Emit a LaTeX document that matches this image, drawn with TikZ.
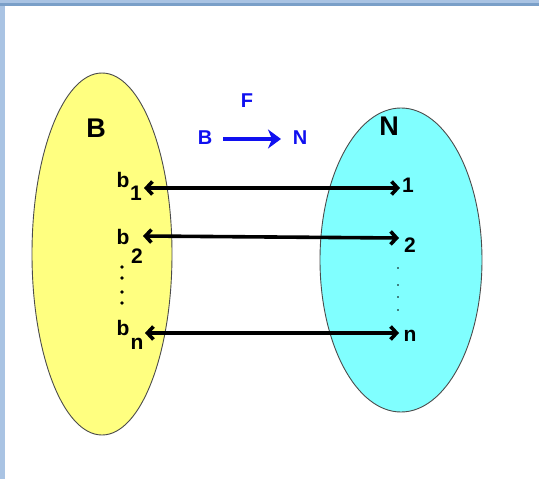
\documentclass[tikz,border=0pt]{standalone}
\usepackage{fontspec}
\setmainfont{Liberation Sans}
\usetikzlibrary{arrows.meta}
\definecolor{setyellow}{HTML}{FFFF80}
\definecolor{setcyan}{HTML}{80FFFF}
\definecolor{frameA}{HTML}{A9C3E3}
\definecolor{frameB}{HTML}{7A9FC8}
\definecolor{maparrow}{HTML}{1010F0}
\tikzset{
  setshape/.style={draw=black!70, line width=0.9pt},
  biglabel/.style={inner sep=0pt, font=\fontsize{27}{27}\selectfont\bfseries},
  elemlabel/.style={inner sep=0pt, font=\fontsize{21}{21}\selectfont\bfseries},
  bluelabel/.style={inner sep=0pt, text=maparrow, font=\fontsize{20}{20}\selectfont\bfseries},
  pairarrow/.style={line width=3.6pt, {Straight Barb[length=6pt,width=13pt]}-{Straight Barb[length=6pt,width=13pt]}},
}
\begin{document}
\begin{tikzpicture}[x=1pt,y=-1pt]
\useasboundingbox (0,0) rectangle (539,479);
\fill[white] (0,0) rectangle (539,479);
% frame
\fill[frameA] (0,0) rectangle (539,3);
\fill[frameB] (0,3) rectangle (539,6);
\fill[frameA] (0,6) rectangle (5,479);
% sets
\draw[setshape, fill=setyellow] (102,254) ellipse [x radius=70, y radius=181];
\draw[setshape, fill=setcyan] (401,260) ellipse [x radius=81, y radius=152];
% set names
\node[biglabel] (setB) at (96,128) {B};
\node[biglabel] (setN) at (389,126) {N};
% map label
\node[bluelabel] (mapF) at (247,101) {F};
\node[bluelabel] (mapB) at (205,138) {B};
\node[bluelabel] (mapN) at (300,138) {N};
\coordinate (bs) at (223,139);
\coordinate (be) at (281,139);
\draw[line width=4pt, maparrow, -{Stealth[length=13pt,width=19pt,inset=4pt]}] (bs) -- (be);
% elements
\node[elemlabel] (b1) at (123,180) {b};
\node[elemlabel] (s1) at (136,193) {1};
\node[elemlabel] (b2) at (123,237) {b};
\node[elemlabel] (s2) at (137,256) {2};
\node[elemlabel] (bn) at (123,328) {b};
\node[elemlabel] (sn) at (137,344) {n};
\node[elemlabel] (n1) at (408,185) {1};
\node[elemlabel] (n2) at (410,245) {2};
\node[elemlabel] (nn) at (410,336) {n};
% arrow endpoints
\coordinate (l1) at (144,188);
\coordinate (r1) at (400,188);
\coordinate (l2) at (143,236);
\coordinate (r2) at (399,238);
\coordinate (ln) at (145,333);
\coordinate (rn) at (399,333);
\draw[pairarrow] (l1) -- (r1);
\draw[pairarrow] (l2) -- (r2);
\draw[pairarrow] (ln) -- (rn);
% dots
\foreach \y in {267,278,292,303} \fill (122,\y) circle (1.8);
\foreach \y in {268,285,297,310} \fill (398,\y) circle (0.8);
\end{tikzpicture}
\end{document}
